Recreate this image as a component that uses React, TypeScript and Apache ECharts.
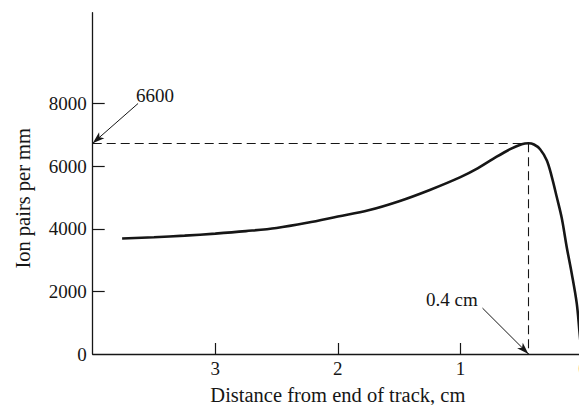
import React, { useEffect, useRef } from "react";
import * as echarts from "echarts";

// Distance from end of track (cm) and ionization (ion pairs per mm)
const distance = [3.76, 3.5, 3.25, 3.0, 2.75, 2.5, 2.25, 2.0, 1.75, 1.5, 1.25, 1.0, 0.86, 0.73, 0.59, 0.5, 0.445, 0.4, 0.35, 0.295, 0.254, 0.214, 0.173, 0.133, 0.092, 0.051, 0.03, 0.012];
const ionPairs = [3690, 3730, 3780, 3845, 3925, 4025, 4190, 4390, 4590, 4880, 5240, 5650, 5930, 6240, 6550, 6700, 6730, 6690, 6540, 6183, 5650, 5013, 4334, 3420, 2572, 1616, 765, 0];

const peakDistance = 0.445;
const peakValue = 6730;
const peakValueLabel = "6600";
const peakDistanceLabel = "0.4 cm";
const arrow6600Start = [3.63, 8000];
const arrowCmStart = [0.82, 1466];

const yLabelValues = [0, 2000, 4000, 6000, 8000];
const yTickValues = [2000, 4000, 6000, 8000];
const xLabelValues = [3, 2, 1, 0];
const xTickValues = [3, 2, 1];

const FONT = "Liberation Serif";
const INK = "#161616";

export default function App() {
  const ref = useRef<HTMLDivElement>(null);
  useEffect(() => {
    if (!ref.current) return;
    const chart = echarts.init(ref.current, null, { renderer: "svg" });
    chart.setOption({
      animation: false,
      backgroundColor: "#ffffff",
      grid: { left: 92.7, top: 12.7, width: 490.3, bottom: 51, containLabel: false, outerBoundsMode: "none" },
      xAxis: {
        type: "value",
        min: 0,
        max: 4,
        interval: 1,
        inverse: true,
        name: "Distance from end of track, cm",
        nameLocation: "middle",
        nameGap: 30,
        nameMoveOverlap: false,
        nameTextStyle: { fontFamily: FONT, fontSize: 20.5, color: INK },
        axisLine: { show: true, onZero: false, lineStyle: { color: INK, width: 1.3 } },
        axisTick: { show: true, inside: true, length: 11, customValues: xTickValues, lineStyle: { color: INK, width: 1.2 } },
        axisLabel: { customValues: xLabelValues, fontFamily: FONT, fontSize: 19, color: INK, margin: 5, formatter: (v: number) => String(v) },
        splitLine: { show: false },
      },
      yAxis: {
        type: "value",
        position: "left",
        min: 0,
        max: 10900,
        interval: 2000,
        axisLine: { show: true, onZero: false, lineStyle: { color: INK, width: 1.3 } },
        axisTick: { show: true, inside: true, length: 12, customValues: yTickValues, lineStyle: { color: INK, width: 1.2 } },
        axisLabel: { customValues: yLabelValues, fontFamily: FONT, fontSize: 19, color: INK, margin: 6, formatter: (v: number) => String(v) },
        splitLine: { show: false },
      },
      graphic: [
        {
          type: "text",
          left: 12,
          top: 128,
          rotation: Math.PI / 2,
          style: { text: "Ion pairs per mm", font: `20.5px '${FONT}'`, fill: INK },
        },
        {
          type: "text",
          x: 136,
          y: 86,
          style: { text: peakValueLabel, font: `19px '${FONT}'`, fill: INK },
        },
        {
          type: "text",
          x: 426,
          y: 290,
          style: { text: peakDistanceLabel, font: `19px '${FONT}'`, fill: INK },
        },
      ],
      series: [
        {
          type: "line",
          data: distance.map((d, i) => [d, ionPairs[i]]),
          smooth: 0.35,
          symbol: "none",
          clip: true,
          lineStyle: { color: INK, width: 2.6 },
          markLine: {
            silent: true,
            symbol: ["none", "none"],
            label: { show: false },
            lineStyle: { color: INK, width: 1.1, type: [9, 5] },
            data: [
              [{ coord: [4, peakValue] }, { coord: [peakDistance, peakValue] }],
              [{ coord: [peakDistance, peakValue] }, { coord: [peakDistance, 0] }],
              [
                { coord: arrow6600Start, symbol: "none", lineStyle: { type: "solid", width: 1, color: INK } },
                { coord: [4, peakValue], symbol: "arrow", symbolSize: [6, 12] },
              ],
              [
                { coord: arrowCmStart, symbol: "none", lineStyle: { type: "solid", width: 1, color: INK } },
                { coord: [peakDistance, 0], symbol: "arrow", symbolSize: [6, 12] },
              ],
            ],
          },
        },
      ],
    });
    return () => chart.dispose();
  }, []);
  return <div ref={ref} style={{ position: "fixed", left: 0, top: 0, width: 579, height: 405 }} />;
}
